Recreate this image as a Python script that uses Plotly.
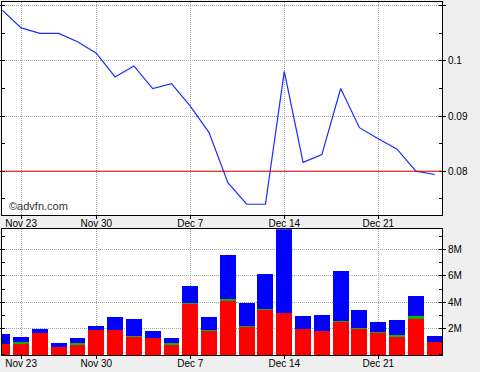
import plotly.graph_objects as go
from plotly.subplots import make_subplots

dates = ["Nov 20", "Nov 23", "Nov 24", "Nov 25", "Nov 27", "Nov 30", "Dec 1", "Dec 2",
         "Dec 3", "Dec 4", "Dec 7", "Dec 8", "Dec 9", "Dec 10", "Dec 11", "Dec 14",
         "Dec 15", "Dec 16", "Dec 17", "Dec 18", "Dec 21", "Dec 22", "Dec 23", "Dec 24"]

price = [0.1092, 0.1060, 0.1050, 0.1050, 0.1035, 0.1014, 0.0971, 0.0991,
         0.0950, 0.0959, 0.0918, 0.0870, 0.0779, 0.0740, 0.0740, 0.0981,
         0.0816, 0.0830, 0.0950, 0.0879, 0.0859, 0.0840, 0.0800, 0.0794]

# volume segments in millions
vol_red = [0.81, 0.86, 1.65, 0.59, 0.81, 1.90, 1.90, 1.35, 1.27, 0.81, 3.88, 1.80,
           4.08, 2.11, 3.42, 3.17, 1.95, 1.80, 2.51, 1.95, 1.65, 1.35, 2.71, 0.97]
vol_green = [0.0, 0.11, 0.0, 0.0, 0.08, 0.0, 0.0, 0.07, 0.0, 0.08, 0.05, 0.10,
             0.13, 0.07, 0.08, 0.0, 0.0, 0.0, 0.08, 0.08, 0.08, 0.15, 0.23, 0.0]
vol_blue = [0.76, 0.38, 0.30, 0.30, 0.38, 0.28, 0.97, 1.29, 0.53, 0.38, 1.29, 0.97,
            3.37, 1.75, 2.64, 6.43, 0.99, 1.22, 3.78, 1.37, 0.76, 1.14, 1.52, 0.45]

week_ticks = ["Nov 23", "Nov 30", "Dec 7", "Dec 14", "Dec 21"]
price_ticks = [0.08, 0.09, 0.1, 0.11]
price_labels = ["0.08", "0.09", "0.1", ""]
vol_ticks = [2, 4, 6, 8]
vol_labels = ["2M", "4M", "6M", "8M"]
ref_price = 0.08

fig = make_subplots(rows=2, cols=1, shared_xaxes=False, vertical_spacing=0.04)

fig.add_trace(go.Scatter(x=dates, y=price, mode="lines",
                         line=dict(color="#1a2cff", width=1.2), showlegend=False),
              row=1, col=1)

fig.add_trace(go.Bar(x=dates, y=vol_red, marker=dict(color="#ff0000", line=dict(width=0)),
                     showlegend=False), row=2, col=1)
fig.add_trace(go.Bar(x=dates, y=vol_green, marker=dict(color="#10b010", line=dict(width=0)),
                     showlegend=False), row=2, col=1)
fig.add_trace(go.Bar(x=dates, y=vol_blue, marker=dict(color="#0000ff", line=dict(width=0)),
                     showlegend=False), row=2, col=1)

fig.add_shape(type="line", xref="x domain", x0=0, x1=1, yref="y", y0=ref_price, y1=ref_price,
              line=dict(color="#e00000", width=1))

font = dict(family="Liberation Sans, Arial, sans-serif", size=10, color="#000")
grid = dict(showgrid=True, gridcolor="#9aa6aa", griddash="1px,1px", gridwidth=1)
xr = [-0.016, 23.39]

common_x = dict(type="category", range=xr, tickmode="array", tickvals=week_ticks,
                ticktext=week_ticks, ticks="outside", ticklen=3, tickcolor="#000",
                ticklabelstandoff=-4,
                showline=True, linecolor="#000", linewidth=1, mirror=True,
                tickfont=font, zeroline=False, automargin=False, **grid)

fig.update_layout(
    width=480, height=372,
    margin=dict(l=2, r=38, t=2, b=17),
    paper_bgcolor="#efefef", plot_bgcolor="#ffffff",
    barmode="stack", bargap=0.15,
    font=font,
    xaxis=dict(domain=[0, 1], anchor="y", **common_x),
    xaxis2=dict(domain=[0, 1], anchor="y2", **common_x),
    yaxis=dict(domain=[0.3966, 1], side="right", range=[0.07205, 0.1107],
               tickmode="array", tickvals=price_ticks, ticktext=price_labels,
               ticks="outside", ticklen=3, tickcolor="#000",
               minor=dict(dtick=0.005, tick0=0.075, ticks="inside", ticklen=3,
                          tickcolor="#000", showgrid=False),
               showline=True, linecolor="#000", linewidth=1, mirror="allticks",
               zeroline=False, tickfont=font, automargin=False, **grid),
    yaxis2=dict(domain=[0, 0.3561], side="right", range=[0, 9.53],
                tickmode="array", tickvals=vol_ticks, ticktext=vol_labels,
                ticks="outside", ticklen=3, tickcolor="#000",
                minor=dict(dtick=1, tick0=0, ticks="inside", ticklen=3,
                           tickcolor="#000", showgrid=False),
                showline=True, linecolor="#000", linewidth=1, mirror="allticks",
                zeroline=False, tickfont=font, automargin=False, **grid),
)

fig.add_annotation(text="©advfn.com", xref="paper", yref="paper", x=0.012, y=0.4005,
                   xanchor="left", yanchor="bottom", showarrow=False,
                   font=dict(family="Liberation Sans, Arial, sans-serif", size=11, color="#333"))

fig.write_html("out.html", config={"displayModeBar": False},
               post_script="document.body.style.margin='0';document.body.style.padding='0';document.body.style.background='#efefef';")
